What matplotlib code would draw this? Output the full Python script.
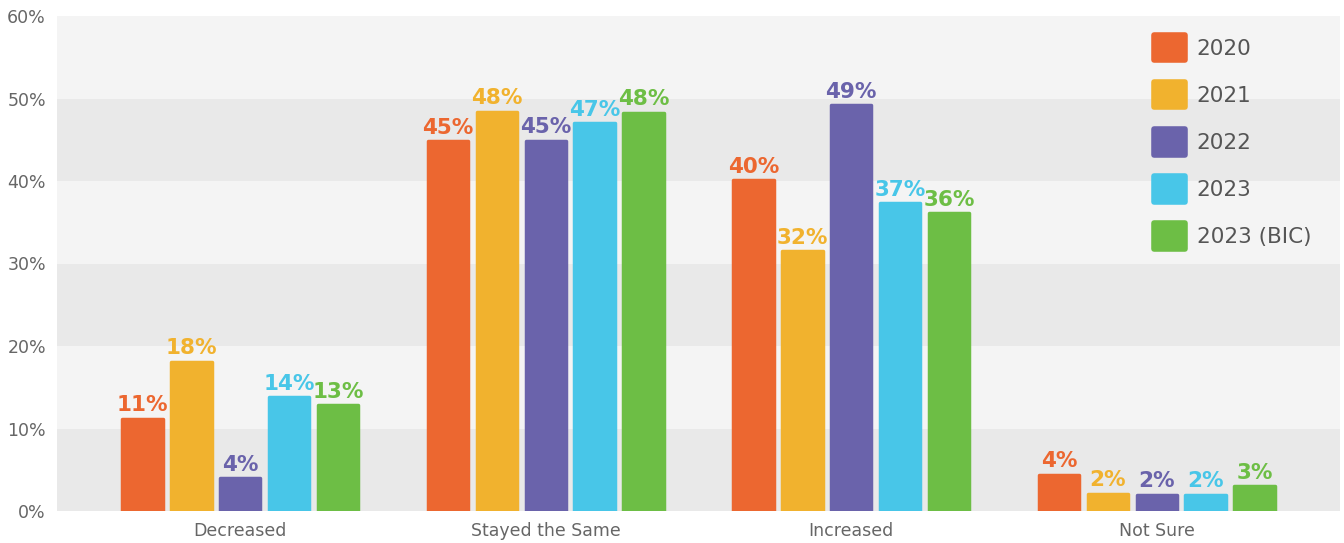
import matplotlib.pyplot as plt
import numpy as np

plt.rcParams['font.family'] = ['DejaVu Sans']

categories = ["Decreased", "Stayed the Same", "Increased", "Not Sure"]
years = ["2020", "2021", "2022", "2023", "2023 (BIC)"]
colors = ["#EC6730", "#F1B22E", "#6A63AB", "#48C6E8", "#6DBE45"]

# share of respondents (%) per year, in category order
v2020 = [11.2, 44.8, 40.1, 4.4]
v2021 = [18.1, 48.4, 31.5, 2.1]
v2022 = [4.0, 44.9, 49.2, 2.0]
v2023 = [13.8, 47.0, 37.3, 2.0]
v2023_bic = [12.8, 48.3, 36.1, 3.0]
series = [v2020, v2021, v2022, v2023, v2023_bic]

fig = plt.figure(figsize=(13.44, 5.43), dpi=100)
ax = fig.add_axes([57 / 1344, 32 / 543, (1340 - 57) / 1344, (511 - 16) / 543])

# alternating grey bands every 10%
for i, lo in enumerate(range(0, 60, 10)):
    ax.axhspan(lo, lo + 10, color="#e9e9e9" if i % 2 == 0 else "#f4f4f4", lw=0, zorder=0)

x = np.arange(len(categories))
pitch = 0.16
width = 0.132
for k, (vals, col, yr) in enumerate(zip(series, colors, years)):
    pos = x + (k - 2) * pitch
    ax.bar(pos, vals, width, color=col, edgecolor=col, linewidth=2.5,
           joinstyle="round", label=yr, zorder=2)
    for px, v in zip(pos, vals):
        ax.text(px, v + 0.4, "{:.0f}%".format(v), ha="center", va="bottom",
                color=col, fontsize=15.5, fontweight="bold", zorder=3)

ax.set_xlim(-0.6, 3.6)
ax.set_ylim(0, 60)
ax.set_yticks(range(0, 61, 10))
ax.set_yticklabels(["{}%".format(t) for t in range(0, 61, 10)])
ax.set_xticks(x)
ax.set_xticklabels(categories)
ax.tick_params(length=0, labelsize=12.5, colors="#666666")
ax.tick_params(axis="y", pad=8)
ax.tick_params(axis="x", pad=8)
for s in ax.spines.values():
    s.set_visible(False)

leg = ax.legend(loc="upper left", bbox_to_anchor=(1143 / 1344, 1 - 24 / 543),
                bbox_transform=fig.transFigure, frameon=False, fontsize=15.5,
                handlelength=1.45, handleheight=1.45, labelspacing=1.0,
                handletextpad=0.55, borderpad=0)
for h in leg.legend_handles:
    h.set_linewidth(4)
    h.set_joinstyle("round")
for t in leg.get_texts():
    t.set_color("#555555")

fig.savefig("out.png", dpi=100)
